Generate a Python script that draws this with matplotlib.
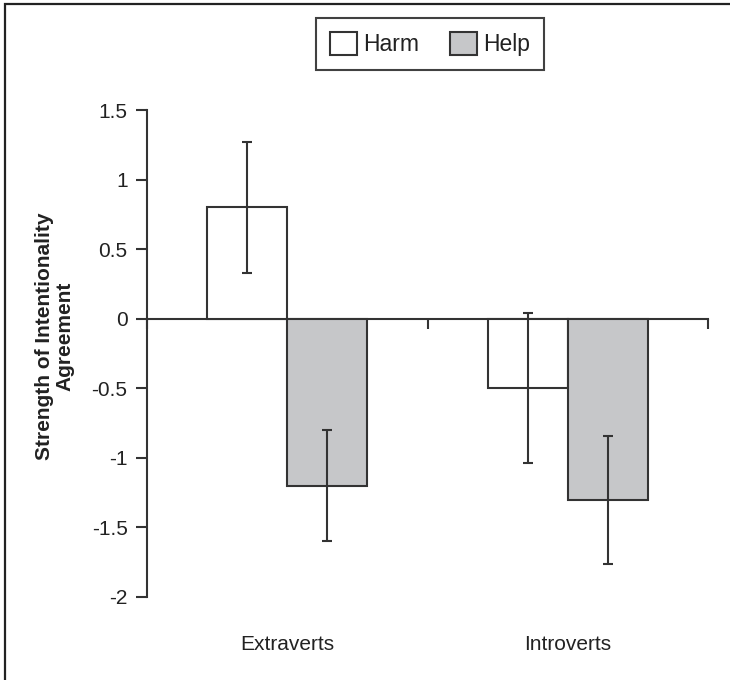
import matplotlib
matplotlib.use("Agg")
from matplotlib import pyplot as plt
from matplotlib.patches import Rectangle, Patch
from matplotlib.ticker import FixedLocator, FuncFormatter
import numpy as np

# data
groups = ["Extraverts", "Introverts"]
series = ["Harm", "Help"]
harm_means = [0.8, -0.5]
harm_err = [0.47, 0.54]
help_means = [-1.2, -1.3]
help_err = [0.40, 0.46]
y_ticks = [-2, -1.5, -1, -0.5, 0, 0.5, 1, 1.5]

plt.rcParams["font.family"] = ["Liberation Sans", "DejaVu Sans"]
plt.rcParams["axes.unicode_minus"] = False

EDGE = "#333333"
TEXT = "#222222"
fills = ["white", "#c6c7c9"]

fig = plt.figure(figsize=(7.3, 6.8), dpi=100)
ax = fig.add_axes([147 / 730, 83 / 680, 561 / 730, 487 / 680])

x = np.arange(len(groups))
w = 0.285
for i, (means, errs) in enumerate([(harm_means, harm_err), (help_means, help_err)]):
    pos = x + (i - 0.5) * w
    ax.bar(pos, means, width=w, color=fills[i], edgecolor=EDGE, linewidth=1.5, zorder=2)
    ax.errorbar(pos, means, yerr=errs, fmt="none", ecolor=EDGE, elinewidth=1.5,
                capsize=3.6, capthick=1.5, zorder=3)

ax.set_xlim(-0.5, len(groups) - 0.5)
ax.set_ylim(-2, 1.5)

# spines: left axis plus the zero line carrying the category dividers
for s in ["top", "right"]:
    ax.spines[s].set_visible(False)
ax.spines["bottom"].set_position(("data", 0))
ax.spines["bottom"].set_color(EDGE)
ax.spines["bottom"].set_linewidth(1.5)
ax.spines["left"].set_color(EDGE)
ax.spines["left"].set_linewidth(1.5)
ax.spines["bottom"].set_zorder(1)

ax.xaxis.set_major_locator(FixedLocator(np.arange(len(groups) + 1) - 0.5))
ax.tick_params(axis="x", direction="out", length=7, width=1.5, color=EDGE, labelbottom=False)
ax.yaxis.set_major_locator(FixedLocator(y_ticks))
ax.yaxis.set_major_formatter(FuncFormatter(lambda v, p: f"{v:g}"))
ax.tick_params(axis="y", direction="out", length=8, width=1.5, color=EDGE, pad=6,
               labelsize=15, labelcolor=TEXT)

for xi, g in zip(x, groups):
    ax.text(xi, -0.097, g, transform=ax.get_xaxis_transform(), ha="center", va="center",
            fontsize=15, color=TEXT)

ax.set_ylabel("Strength of Intentionality\nAgreement", fontsize=15, fontweight="bold",
              color=TEXT, linespacing=1.05)
ax.yaxis.set_label_coords(-0.13, 0.536)

handles = [Patch(facecolor=fills[i], edgecolor=EDGE, linewidth=1.5, label=series[i])
           for i in range(len(series))]
leg = fig.legend(handles=handles, loc="upper center", bbox_to_anchor=(430 / 730, 1 - 18 / 680),
                 ncol=2, fontsize=16.5, frameon=True, fancybox=False, handlelength=1.2,
                 handleheight=1.2, handletextpad=0.25, columnspacing=1.35, borderpad=0.6,
                 borderaxespad=0)
leg.get_frame().set_edgecolor("#111111")
leg.get_frame().set_linewidth(1.5)
for t in leg.get_texts():
    t.set_color(TEXT)

# outer frame of the figure (right and bottom edges fall outside the image)
fig.patches.append(Rectangle((4.5 / 730, -0.1), 1.2, 1.1 - 4.5 / 680, transform=fig.transFigure,
                             fill=False, edgecolor="#222222", linewidth=1.6))

fig.savefig("out.png", dpi=100)
